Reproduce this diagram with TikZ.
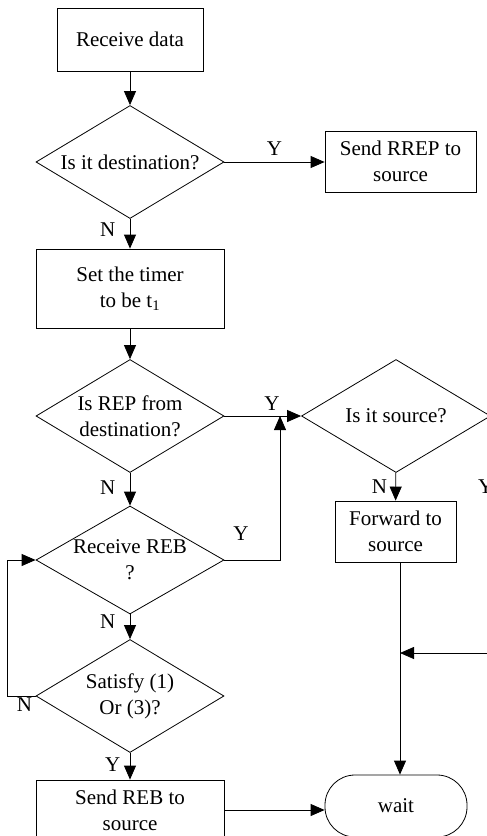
\documentclass[tikz,border=0pt]{standalone}
\usepackage{fontspec}
\setmainfont{Liberation Serif}
\usetikzlibrary{arrows.meta,shapes.geometric}

\begin{document}
\begin{tikzpicture}[
	x=1pt,y=-1pt,
	>={Triangle[length=14pt,width=12pt]},
	line width=0.8pt,
	line join=miter,
	font=\fontsize{21}{26}\selectfont,
	box/.style={draw,rectangle,align=center,inner sep=0pt},
	decision/.style={draw,diamond,inner sep=0pt,minimum width=188pt,minimum height=113pt},
	terminal/.style={draw,rectangle,rounded corners=30pt,inner sep=0pt,minimum width=142pt,minimum height=62pt}
	]
	\useasboundingbox (0,0) rectangle (487,836);
	% boxes
	\node[box,minimum width=146pt,minimum height=63pt] (data) at (130,39.5) {Receive data};
	\node[decision] (d1) at (130,162) [label={center:Is it destination?}] {};
	\node[box,minimum width=151pt,minimum height=61pt] (rrep) at (400.5,161.5) {Send RREP to\\source};
	\node[box,minimum width=188pt,minimum height=79pt] (timer) at (130,288.5) {Set the timer\\to be t\textsubscript{1}};
	\node[decision] (d2) at (130,416) [label={[align=center]center:Is REP from\\destination?}] {};
	\node[decision,minimum width=189pt] (d3) at (396,416) [label={center:Is it source?}] {};
	\node[decision,minimum height=108pt] (d4) at (130,560) [label={[align=center]center:Receive REB\\?}] {};
	\node[decision] (d5) at (130,696) [label={[align=center]center:Satisfy (1)\\Or (3)?}] {};
	\node[box,minimum width=121pt,minimum height=61pt] (forward) at (395.5,531.5) {Forward to\\source};
	\node[box,minimum width=188pt,minimum height=60pt] (sendreb) at (130,810) {Send REB to\\source};
	\node[terminal] (wait) at (396,806) {wait};
	\coordinate (join) at (280,416);
	\coordinate (joinb) at (400,653);
	\coordinate (outr) at (505,653);
	% connectors
	\draw[->] (data) -- (d1);
	\draw[->] (d1.east) -- node[name=yes1,above=3pt] {Y} (d1.east -| rrep.west);
	\draw[->] (d1) -- node[name=no1,pos=0.35,left=11pt] {N} (timer);
	\draw[->] (timer) -- (d2);
	\draw[->] (d2.east) -- node[name=yes2,pos=0.62,above=2pt] {Y} (d3.west);
	\draw[->] (d2) -- node[name=no2,pos=0.44,left=11pt] {N} (d4);
	\draw[->] (d4.east) -- node[name=yes4,pos=0.3,above=16pt] {Y} (d4.east -| join) -- (join);
	\draw[->] (d4) -- node[name=no4,pos=0.28,left=11pt] {N} (d5);
	\draw[->] (d5.west) -- node[name=no5,pos=0.4,below=-2pt] {N} ++(-28,0) |- (d4.west);
	\draw[->] (d5) -- node[name=yes5,pos=0.43,left=6pt] {Y} (sendreb);
	\draw[->] (d3) -- node[name=no3,pos=0.5,left=5pt] {N} (forward);
	\draw[->] (d3.east) -| node[name=yes3,pos=0.65,left=8pt] {Y} (outr) -- (joinb);
	\draw[->] (forward.south -| joinb) -- (wait.north -| joinb);
	\draw[->] (sendreb.east) -- (sendreb.east -| wait.west);
\end{tikzpicture}
\end{document}
